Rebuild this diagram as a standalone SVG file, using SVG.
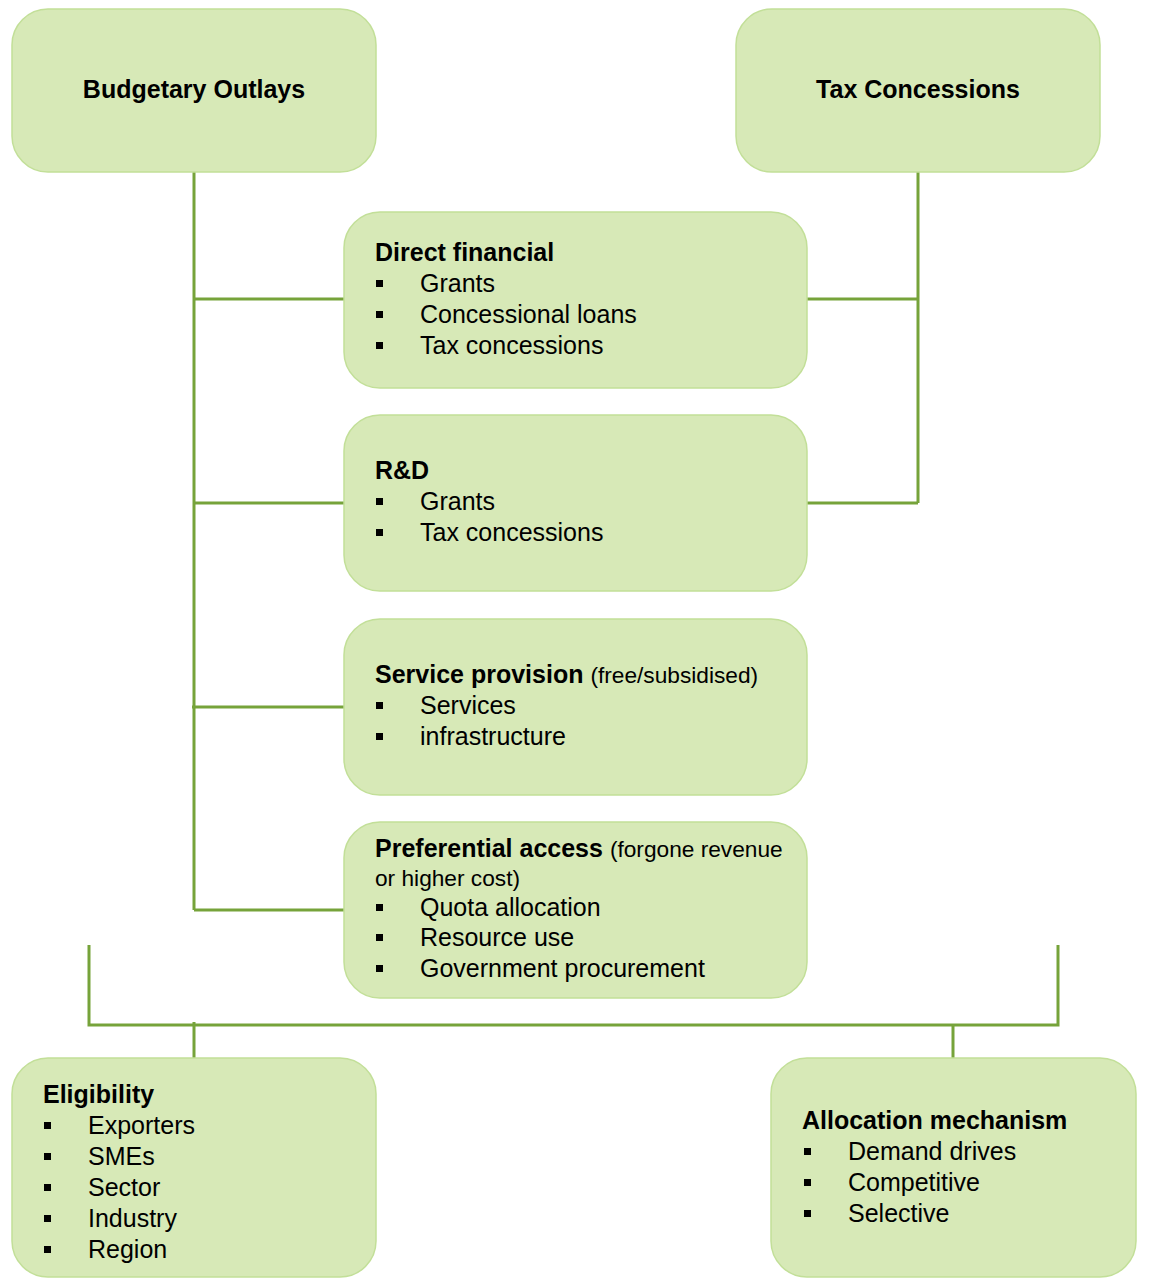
<svg xmlns="http://www.w3.org/2000/svg" width="1152" height="1278" viewBox="0 0 1152 1278">
<style>
.box{fill:#d7e9b7;stroke:#c2df98;stroke-width:1.5}
.ln{stroke:#76a33a;stroke-width:3;fill:none}
text{font-family:"Liberation Sans",Arial,sans-serif;fill:#000}
.t{font-size:25px;font-weight:bold}
.i{font-size:25px}
.s{font-size:22.7px;font-weight:normal}
.b{fill:#000}
</style>
<rect width="1152" height="1278" fill="#fff"/>
<g id="connectors">
<path class="ln" d="M194 172V910M194 299H344M194 503H344M192 707H344M194 910H344"/>
<path class="ln" d="M918 172V503M807 299H918M807 503H918"/>
<path class="ln" d="M89 945V1025H1058V945M194 1022V1058M953 1025V1058"/>
</g>
<g id="budgetary-outlays">
<rect class="box" x="12" y="9" width="364" height="163" rx="36"/>
<text class="t" x="194" y="98" text-anchor="middle">Budgetary Outlays</text>
</g>
<g id="tax-concessions">
<rect class="box" x="736" y="9" width="364" height="163" rx="36"/>
<text class="t" x="918" y="98" text-anchor="middle">Tax Concessions</text>
</g>
<g id="direct-financial">
<rect class="box" x="344" y="212" width="463" height="176" rx="36"/>
<text class="t" x="375" y="261">Direct financial</text>
<rect class="b" x="376" y="280" width="7" height="7"/><text class="i" x="420" y="292">Grants</text>
<rect class="b" x="376" y="311" width="7" height="7"/><text class="i" x="420" y="323">Concessional loans</text>
<rect class="b" x="376" y="342" width="7" height="7"/><text class="i" x="420" y="354">Tax concessions</text>
</g>
<g id="rnd">
<rect class="box" x="344" y="415" width="463" height="176" rx="36"/>
<text class="t" x="375" y="479">R&amp;D</text>
<rect class="b" x="376" y="498" width="7" height="7"/><text class="i" x="420" y="510">Grants</text>
<rect class="b" x="376" y="529" width="7" height="7"/><text class="i" x="420" y="541">Tax concessions</text>
</g>
<g id="service-provision">
<rect class="box" x="344" y="619" width="463" height="176" rx="36"/>
<text class="t" x="375" y="683">Service provision <tspan class="s">(free/subsidised)</tspan></text>
<rect class="b" x="376" y="702" width="7" height="7"/><text class="i" x="420" y="714">Services</text>
<rect class="b" x="376" y="733" width="7" height="7"/><text class="i" x="420" y="745">infrastructure</text>
</g>
<g id="preferential-access">
<rect class="box" x="344" y="822" width="463" height="176" rx="36"/>
<text class="t" x="375" y="857">Preferential access <tspan class="s">(forgone revenue</tspan></text>
<text class="i" x="375" y="886" style="font-size:22.7px">or higher cost)</text>
<rect class="b" x="376" y="904" width="7" height="7"/><text class="i" x="420" y="916">Quota allocation</text>
<rect class="b" x="376" y="934" width="7" height="7"/><text class="i" x="420" y="946">Resource use</text>
<rect class="b" x="376" y="965" width="7" height="7"/><text class="i" x="420" y="977">Government procurement</text>
</g>
<g id="eligibility">
<rect class="box" x="12" y="1058" width="364" height="219" rx="36"/>
<text class="t" x="43" y="1103">Eligibility</text>
<rect class="b" x="44" y="1122" width="7" height="7"/><text class="i" x="88" y="1134">Exporters</text>
<rect class="b" x="44" y="1153" width="7" height="7"/><text class="i" x="88" y="1165">SMEs</text>
<rect class="b" x="44" y="1184" width="7" height="7"/><text class="i" x="88" y="1196">Sector</text>
<rect class="b" x="44" y="1215" width="7" height="7"/><text class="i" x="88" y="1227">Industry</text>
<rect class="b" x="44" y="1246" width="7" height="7"/><text class="i" x="88" y="1258">Region</text>
</g>
<g id="allocation-mechanism">
<rect class="box" x="771" y="1058" width="365" height="219" rx="36"/>
<text class="t" x="802" y="1129">Allocation mechanism</text>
<rect class="b" x="804" y="1148" width="7" height="7"/><text class="i" x="848" y="1160">Demand drives</text>
<rect class="b" x="804" y="1179" width="7" height="7"/><text class="i" x="848" y="1191">Competitive</text>
<rect class="b" x="804" y="1210" width="7" height="7"/><text class="i" x="848" y="1222">Selective</text>
</g>
</svg>
